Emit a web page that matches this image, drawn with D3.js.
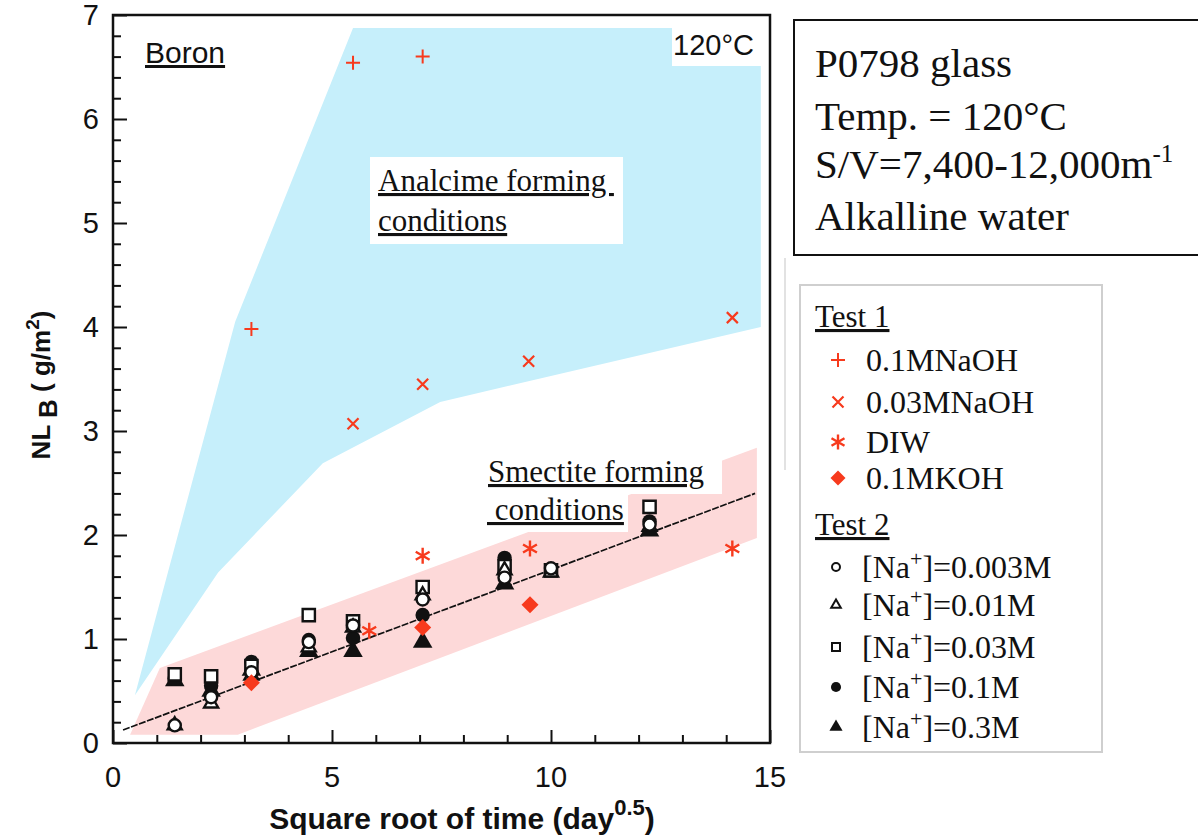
<!DOCTYPE html>
<html>
<head>
<meta charset="utf-8">
<script src="https://cdn.jsdelivr.net/npm/d3@7"></script>
<style>
  body { margin: 0; background: #fff; }
  svg { display: block; }
</style>
</head>
<body>
<svg id="chart" width="1198" height="839"></svg>
<script>
// ---- axis ticks ----
const xTickLabels = [0, 5, 10, 15];
const yTickLabels = [0, 1, 2, 3, 4, 5, 6, 7];

// ---- shaded regions (x = sqrt(day), y = NL_B g/m2) ----
const analcimeRegion = [[0.50, 0.46], [2.79, 4.05], [5.48, 6.875], [14.79, 6.875],
                        [14.79, 4.0], [7.47, 3.28], [4.79, 2.69], [2.40, 1.64]];
const smectiteRegion = [[0.39, 0.08], [1.07, 0.72], [14.7, 2.84], [14.7, 1.97], [2.85, 0.08]];

// ---- trend line ----
const trendLine = [[0.23, 0.125], [14.66, 2.40]];

// ---- Test 1 ----
const naoh01 = [[3.16, 3.98], [5.48, 6.54], [7.07, 6.60]];
const naoh003 = [[5.48, 3.07], [7.07, 3.45], [9.49, 3.67], [14.14, 4.09]];
const diw = [[5.85, 1.08], [7.07, 1.80], [9.52, 1.87], [14.14, 1.87]];
const koh01 = [[3.16, 0.58], [7.07, 1.11], [9.52, 1.33]];

// ---- Test 2 ----
const na0003 = [[1.41, 0.17], [2.24, 0.44], [3.16, 0.68], [4.47, 0.97], [5.48, 1.13],
                [7.07, 1.38], [8.94, 1.59], [10.0, 1.68], [12.25, 2.10]];
const na001 = [[1.41, 0.17], [2.24, 0.38], [3.16, 0.65], [4.47, 0.92], [5.48, 1.11],
               [7.07, 1.42], [8.94, 1.66], [10.0, 1.64], [12.25, 2.08]];
const na003 = [[1.41, 0.66], [2.24, 0.64], [3.16, 0.74], [4.47, 1.23], [5.48, 1.17],
               [7.07, 1.50], [8.94, 1.70], [10.0, 1.66], [12.25, 2.27]];
const na01 = [[1.41, 0.62], [2.24, 0.55], [3.16, 0.78], [4.47, 0.99], [5.48, 1.01],
              [7.07, 1.23], [8.94, 1.78], [12.25, 2.13]];
const na03 = [[1.41, 0.60], [2.24, 0.50], [3.16, 0.70], [4.47, 0.88], [5.48, 0.88],
              [7.07, 0.97], [8.94, 1.53], [12.25, 2.04]];

// ---- text ----
const infoLines = ["P0798 glass", "Temp. = 120°C", "S/V=7,400-12,000m", "Alkalline water"];
const test1Labels = ["0.1MNaOH", "0.03MNaOH", "DIW", "0.1MKOH"];
const test2Labels = ["0.003M", "0.01M", "0.03M", "0.1M", "0.3M"];

const RED = "#f73a1d";
const BLUE = "#c6effb";
const PINK = "#fdd9d9";
const SANS = "'Liberation Sans', Arial, sans-serif";
const SERIF = "'Liberation Serif', 'Times New Roman', serif";

const svg = d3.select("#chart");
const plot = { left: 113, right: 770, top: 15, bottom: 743 };

const x = d3.scaleLinear().domain([0, 15]).range([plot.left, plot.right]);
const y = d3.scaleLinear().domain([0, 7]).range([plot.bottom, plot.top]);

// ---- regions ----
const area = d3.line().x(d => x(d[0])).y(d => y(d[1]));
svg.append("path").attr("d", area(analcimeRegion) + "Z").attr("fill", BLUE);
svg.append("path").attr("d", area(smectiteRegion) + "Z").attr("fill", PINK);

// white label backgrounds
svg.append("rect").attr("x", 672).attr("y", 28).attr("width", 90).attr("height", 38).attr("fill", "#fff");
svg.append("rect").attr("x", 370).attr("y", 157).attr("width", 253).attr("height", 87).attr("fill", "#fff");
svg.append("rect").attr("x", 483).attr("y", 452).attr("width", 239).attr("height", 42).attr("fill", "#fff");
svg.append("rect").attr("x", 483).attr("y", 493).attr("width", 145).attr("height", 39).attr("fill", "#fff");

// ---- trend line ----
svg.append("path").attr("d", area(trendLine))
  .attr("stroke", "#111").attr("stroke-width", 1.7).attr("fill", "none")
  .attr("stroke-dasharray", "7,1.5");

// ---- axes (ticks pointing inward) ----
const xAxis = d3.axisBottom(x).tickValues(d3.range(0, 15.01, 1))
  .tickSizeInner(-8).tickSizeOuter(0).tickFormat("");
const gx = svg.append("g").attr("transform", `translate(0,${plot.bottom})`).call(xAxis);
gx.selectAll(".tick line").attr("y2", d => (d % 5 === 0 ? -13 : -8));

const yAxis = d3.axisLeft(y).tickValues(d3.range(0, 7.001, 0.2))
  .tickSizeInner(-8).tickSizeOuter(0).tickFormat("");
const gy = svg.append("g").attr("transform", `translate(${plot.left},0)`).call(yAxis);
gy.selectAll(".tick line").attr("x2", d => (Math.abs(d - Math.round(d)) < 1e-6 ? 14 : 8));
svg.selectAll(".domain").remove();
svg.selectAll(".tick line").attr("stroke", "#111").attr("stroke-width", 2);

// frame
svg.append("rect").attr("x", plot.left).attr("y", plot.top)
  .attr("width", plot.right - plot.left).attr("height", plot.bottom - plot.top)
  .attr("fill", "none").attr("stroke", "#111").attr("stroke-width", 2.5);

// tick labels
svg.append("g").selectAll("text").data(xTickLabels).join("text")
  .attr("x", d => x(d)).attr("y", 787).attr("text-anchor", "middle")
  .attr("font-family", SANS).attr("font-size", 29).attr("fill", "#111")
  .text(d => d);
svg.append("g").selectAll("text").data(yTickLabels).join("text")
  .attr("x", 99).attr("y", d => y(d) + 10).attr("text-anchor", "end")
  .attr("font-family", SANS).attr("font-size", 29).attr("fill", "#111")
  .text(d => d);

// axis titles
const xt = svg.append("text").attr("x", 462).attr("y", 829).attr("text-anchor", "middle")
  .attr("font-family", SANS).attr("font-weight", "bold").attr("font-size", 30).attr("fill", "#111");
xt.append("tspan").text("Square root of time (day");
xt.append("tspan").attr("dy", -14).attr("font-size", 22).text("0.5");
xt.append("tspan").attr("dy", 14).text(")");

const yt = svg.append("text").attr("transform", "translate(50,385) rotate(-90)")
  .attr("text-anchor", "middle")
  .attr("font-family", SANS).attr("font-weight", "bold").attr("font-size", 26).attr("fill", "#111");
yt.append("tspan").text("NL ");
yt.append("tspan").attr("dy", 7).text("B");
yt.append("tspan").attr("dy", -7).text(" ( g/m");
yt.append("tspan").attr("dy", -11).attr("font-size", 19).text("2");
yt.append("tspan").attr("dy", 11).text(")");

// in-plot labels
svg.append("text").attr("x", 145).attr("y", 63).attr("font-family", SANS).attr("font-size", 30)
  .attr("fill", "#111").attr("text-decoration", "underline").text("Boron");
svg.append("text").attr("x", 673).attr("y", 55).attr("font-family", SANS).attr("font-size", 29)
  .attr("fill", "#111").text("120°C");

function serifLabel(px, py, txt) {
  svg.append("text").attr("x", px).attr("y", py).attr("font-family", SERIF).attr("font-size", 31)
    .attr("fill", "#111").attr("text-decoration", "underline")
    .style("white-space", "pre").text(txt);
}
serifLabel(378, 191, "Analcime forming ");
serifLabel(378, 231, "conditions");
serifLabel(488, 482, "Smectite forming");
serifLabel(487, 520, " conditions");

// ---- markers ----
const symPath = (type, size) => d3.symbol().type(type).size(size)();
function plusPath(r) { return `M${-r},0H${r}M0,${-r}V${r}`; }
function crossPath(r) { return `M${-r},${-r}L${r},${r}M${-r},${r}L${r},${-r}`; }
function starPath(r) {
  let p = `M0,${-r}V${r}`;
  [30, 150].forEach(a => {
    const dx = r * Math.cos(a * Math.PI / 180), dy = r * Math.sin(a * Math.PI / 180);
    p += `M${-dx},${-dy}L${dx},${dy}`;
  });
  return p;
}
// square turned 45 degrees
function diamondPath(r) { return `M0,${-r}L${r},0L0,${r}L${-r},0Z`; }

const markers = {
  naoh01: g => g.attr("d", plusPath(7)).attr("fill", "none").attr("stroke", RED).attr("stroke-width", 2),
  naoh003: g => g.attr("d", crossPath(5.5)).attr("fill", "none").attr("stroke", RED).attr("stroke-width", 2.2),
  diw: g => g.attr("d", starPath(8)).attr("fill", "none").attr("stroke", RED).attr("stroke-width", 2.4),
  koh01: g => g.attr("d", diamondPath(8.5)).attr("fill", RED),
  na0003: g => g.attr("d", symPath(d3.symbolCircle, 115)).attr("fill", "#fff").attr("stroke", "#111").attr("stroke-width", 2.4),
  na001: g => g.attr("d", symPath(d3.symbolTriangle, 85)).attr("fill", "#fff").attr("stroke", "#111").attr("stroke-width", 2.4),
  na003: g => g.attr("d", symPath(d3.symbolSquare, 150)).attr("fill", "#fff").attr("stroke", "#111").attr("stroke-width", 2.4),
  na01: g => g.attr("d", symPath(d3.symbolCircle, 165)).attr("fill", "#111"),
  na03: g => g.attr("d", symPath(d3.symbolTriangle, 165)).attr("fill", "#111")
};

function drawSeries(data, key) {
  svg.append("g").selectAll("path").data(data).join("path")
    .attr("transform", d => `translate(${x(d[0])},${y(d[1])})`)
    .call(markers[key]);
}
drawSeries(na03, "na03");
drawSeries(na01, "na01");
drawSeries(na003, "na003");
drawSeries(na001, "na001");
drawSeries(na0003, "na0003");
drawSeries(koh01, "koh01");
drawSeries(diw, "diw");
drawSeries(naoh003, "naoh003");
drawSeries(naoh01, "naoh01");

// faint separator line
svg.append("line").attr("x1", 785).attr("x2", 785).attr("y1", 258).attr("y2", 470)
  .attr("stroke", "#d8d8d8").attr("stroke-width", 1.5);

// ---- info box ----
svg.append("rect").attr("x", 794).attr("y", 20).attr("width", 420).attr("height", 235)
  .attr("fill", "#fff").attr("stroke", "#111").attr("stroke-width", 2);
const infoY = [77, 130, 178, 230];
infoLines.forEach((t, i) => {
  const tx = svg.append("text").attr("x", 815).attr("y", infoY[i]).attr("font-family", SERIF)
    .attr("font-size", 41).attr("fill", "#111");
  tx.append("tspan").text(t);
  if (i === 2) tx.append("tspan").attr("dy", -16).attr("font-size", 25).text("-1");
});

// ---- legend ----
svg.append("rect").attr("x", 800).attr("y", 285).attr("width", 302).attr("height", 467)
  .attr("fill", "#fff").attr("stroke", "#cfcfcf").attr("stroke-width", 2);

function legendHeader(py, txt) {
  svg.append("text").attr("x", 815).attr("y", py).attr("font-family", SERIF).attr("font-size", 31)
    .attr("fill", "#111").attr("text-decoration", "underline").text(txt);
}
legendHeader(327, "Test 1");
legendHeader(535, "Test 2");

const test1Keys = ["naoh01", "naoh003", "diw", "koh01"];
const test1Y = [360, 402, 442, 478];
const legendMarkers1 = {
  naoh01: g => g.attr("d", plusPath(7)).attr("fill", "none").attr("stroke", RED).attr("stroke-width", 2),
  naoh003: g => g.attr("d", crossPath(5.5)).attr("fill", "none").attr("stroke", RED).attr("stroke-width", 2.2),
  diw: g => g.attr("d", starPath(7.5)).attr("fill", "none").attr("stroke", RED).attr("stroke-width", 2.4),
  koh01: g => g.attr("d", diamondPath(7.5)).attr("fill", RED)
};
test1Keys.forEach((k, i) => {
  svg.append("path").attr("transform", `translate(838,${test1Y[i]})`).call(legendMarkers1[k]);
  svg.append("text").attr("x", 866).attr("y", test1Y[i] + 11).attr("font-family", SERIF)
    .attr("font-size", 32).attr("fill", "#111").text(test1Labels[i]);
});

const test2Keys = ["na0003", "na001", "na003", "na01", "na03"];
const test2Y = [567, 605, 647, 687, 727];
const legendMarkers2 = {
  na0003: g => g.attr("d", symPath(d3.symbolCircle, 50)).attr("fill", "#fff").attr("stroke", "#111").attr("stroke-width", 2),
  na001: g => g.attr("d", symPath(d3.symbolTriangle, 40)).attr("fill", "#fff").attr("stroke", "#111").attr("stroke-width", 2),
  na003: g => g.attr("d", symPath(d3.symbolSquare, 64)).attr("fill", "#fff").attr("stroke", "#111").attr("stroke-width", 2),
  na01: g => g.attr("d", symPath(d3.symbolCircle, 80)).attr("fill", "#111"),
  na03: g => g.attr("d", symPath(d3.symbolTriangle, 75)).attr("fill", "#111")
};
test2Keys.forEach((k, i) => {
  svg.append("path").attr("transform", `translate(836,${test2Y[i]})`).call(legendMarkers2[k]);
  const t = svg.append("text").attr("x", 862).attr("y", test2Y[i] + 11).attr("font-family", SERIF)
    .attr("font-size", 32).attr("fill", "#111");
  t.append("tspan").text("[Na");
  t.append("tspan").attr("dy", -12).attr("font-size", 22).text("+");
  t.append("tspan").attr("dy", 12).text("]=" + test2Labels[i]);
});
</script>
</body>
</html>
